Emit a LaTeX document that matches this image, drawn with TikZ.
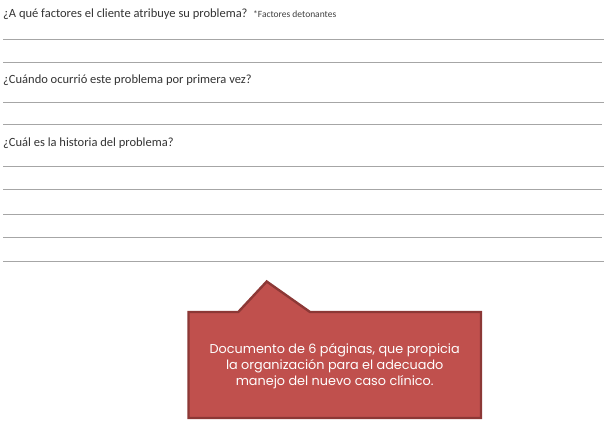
\documentclass[tikz,border=0pt]{standalone}
\usepackage{fontspec}
\setmainfont{Carlito}
\newfontfamily\calloutfont{Poppins}
\definecolor{ruleGray}{HTML}{A6A6A6}
\definecolor{calloutRed}{HTML}{C0504D}
\definecolor{calloutEdge}{HTML}{8C3836}
\tikzset{
  question/.style={anchor=base west,inner sep=0,font=\fontsize{12.5}{14}\selectfont,text=black!80},
  answerline/.style={ruleGray,line width=0.9pt},
}
\begin{document}
\begin{tikzpicture}[x=1pt,y=-1pt]
	\useasboundingbox (0,0) rectangle (613,428);

	\node[question] (qfactores) at (3,17.3) {¿A qué factores el cliente atribuye su problema?};
	\node[anchor=base west,inner sep=0,font=\fontsize{9.5}{11}\selectfont,text=black!75] (nota) at (253,17.3) {*Factores detonantes};
	\node[question] (qcuando) at (3,83.3) {¿Cuándo ocurrió este problema por primera vez?};
	\node[question] (qhistoria) at (3,146.7) {¿Cuál es la historia del problema?};

	% answer lines
	\foreach \y/\xend in {39/604,62/602,102/604,124/602,166/604,189/602,214/604,237/602,261/604}
		\draw[answerline] (3,\y)--(\xend,\y);

	% callout
	\draw[fill=calloutRed,draw=calloutEdge,line width=2.4pt,line join=miter]
		(188.5,312)--(238.3,312)--(266.7,281.5)--(310,312)--(481,312)--(481,418)--(188.5,418)--cycle;
	\node[align=center,text=white,font=\calloutfont\fontsize{12.8}{16}\selectfont] (resumen) at (334.7,366)
		{Documento de 6 páginas, que propicia\\la organización para el adecuado\\manejo del nuevo caso clínico.};
\end{tikzpicture}
\end{document}
